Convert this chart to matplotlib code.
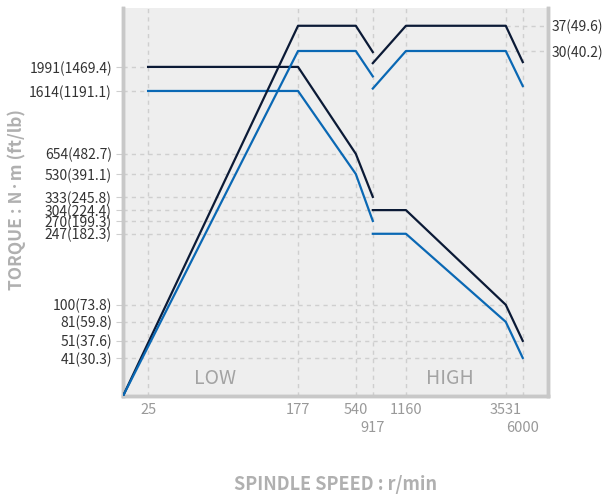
import numpy as np
import matplotlib
matplotlib.use("Agg")
import matplotlib.pyplot as plt

plt.rcParams['font.family'] = ['Noto Sans CJK KR', 'DejaVu Sans']

# spindle speed breakpoints (r/min)
speed_ticks = [25, 177, 540, 917, 1160, 3531, 6000]
speed_labels = ['25', '177', '540', '917', '1160', '3531', '6000']

# torque (N·m), two segments each (low / high gear)
torque_a_low_x = [25, 177, 540, 917]
torque_a_low_y = [1991, 1991, 654, 333]
torque_a_high_x = [917, 1160, 3531, 6000]
torque_a_high_y = [304, 304, 100, 51]
torque_b_low_x = [25, 177, 540, 917]
torque_b_low_y = [1614, 1614, 530, 270]
torque_b_high_x = [917, 1160, 3531, 6000]
torque_b_high_y = [247, 247, 81, 41]

torque_ticks = [1991, 1614, 654, 530, 333, 304, 270, 247, 100, 81, 51, 41]
torque_labels = ['1991(1469.4)', '1614(1191.1)', '654(482.7)', '530(391.1)',
                 '333(245.8)', '304(224.4)', '270(199.3)', '247(182.3)',
                 '100(73.8)', '81(59.8)', '51(37.6)', '41(30.3)']

# power (kW)
power_a_low_x = [0, 177, 540, 917]
power_a_low_y = [0, 37, 37, 29.7]
power_a_high_x = [917, 1160, 3531, 6000]
power_a_high_y = [26.6, 37, 37, 26.9]
power_b_low_x = [0, 177, 540, 917]
power_b_low_y = [0, 30, 30, 22.9]
power_b_high_x = [917, 1160, 3531, 6000]
power_b_high_y = [19.5, 30, 30, 20.2]

power_ticks = [37, 30]
power_labels = ['37(49.6)', '30(40.2)']

DARK = '#0b1a36'
BLUE = '#0a68b4'
GRID = '#cfcfcf'
SPINE = '#c8c8c8'


def piecewise(vals, fracs):
    vals = np.asarray(vals, float)
    fracs = np.asarray(fracs, float)
    fwd = lambda v: np.interp(v, vals, fracs)
    inv = lambda f: np.interp(f, fracs, vals)
    return fwd, inv


# schematic (non-uniform) axis scales
x_fwd, x_inv = piecewise([0, 25, 177, 540, 917, 1160, 3531, 6000, 6500],
                         [0, 0.059, 0.412, 0.548, 0.588, 0.666, 0.901, 0.941, 1])
t_fwd, t_inv = piecewise([0, 41, 51, 81, 100, 247, 270, 304, 333, 530, 654, 1614, 1991, 2500],
                         [0, 0.098, 0.142, 0.191, 0.235, 0.418, 0.451, 0.479, 0.513,
                          0.572, 0.624, 0.786, 0.848, 1])
p_fwd, p_inv = piecewise([0, 16, 30, 37, 42], [0, 0.760, 0.889, 0.954, 1])

fig = plt.figure(figsize=(6.06, 4.95), dpi=100)
ax = fig.add_axes([0.203, 0.2, 0.701, 0.784])
ax.set_xscale('function', functions=(x_fwd, x_inv))
ax.set_yscale('function', functions=(t_fwd, t_inv))
ax.set_xlim(0, 6500)
ax.set_ylim(0, 2500)
ax.set_facecolor('#eeeeee')

ax2 = ax.twinx()
ax2.set_yscale('function', functions=(p_fwd, p_inv))
ax2.set_ylim(0, 42)

# vertical grid
for s in speed_ticks:
    ax.axvline(s, color=GRID, lw=1, ls=(0, (3, 3)), zorder=1)

# horizontal grid up to the curve
torque_sets = [(torque_a_low_x, torque_a_low_y), (torque_a_high_x, torque_a_high_y),
               (torque_b_low_x, torque_b_low_y), (torque_b_high_x, torque_b_high_y)]
for t in torque_ticks:
    for xs, ys in torque_sets:
        if t in ys:
            ax.hlines(t, 0, xs[ys.index(t)], color=GRID, lw=1, ls=(0, (3, 3)), zorder=1)
            break
power_sets = [(power_a_high_x, power_a_high_y), (power_b_high_x, power_b_high_y)]
for p in power_ticks:
    for xs, ys in power_sets:
        if p in ys:
            last = len(ys) - 1 - ys[::-1].index(p)
            ax2.hlines(p, xs[last], 6500, color=GRID, lw=1, ls=(0, (3, 3)), zorder=1)
            break

for xs, ys in [(torque_a_low_x, torque_a_low_y), (torque_a_high_x, torque_a_high_y)]:
    ax.plot(xs, ys, color=DARK, lw=1.6, zorder=3)
for xs, ys in [(torque_b_low_x, torque_b_low_y), (torque_b_high_x, torque_b_high_y)]:
    ax.plot(xs, ys, color=BLUE, lw=1.6, zorder=3)
for xs, ys in [(power_a_low_x, power_a_low_y), (power_a_high_x, power_a_high_y)]:
    ax2.plot(xs, ys, color=DARK, lw=1.6, zorder=3)
for xs, ys in [(power_b_low_x, power_b_low_y), (power_b_high_x, power_b_high_y)]:
    ax2.plot(xs, ys, color=BLUE, lw=1.6, zorder=3)

ax.set_xticks(speed_ticks)
ax.set_xticklabels(speed_labels, color='#999999', fontsize=10.5)
ax.tick_params(axis='x', length=0, pad=5)
# stagger the crowded labels
for i in (3, 6):
    ax.xaxis.get_major_ticks()[i].set_pad(18)
ax.set_yticks(torque_ticks)
ax.set_yticklabels(torque_labels, color='#333333', fontsize=10)
ax.tick_params(axis='y', length=5, color=GRID, pad=3)
ax.minorticks_off()
ax2.set_yticks(power_ticks)
ax2.set_yticklabels(power_labels, color='#333333', fontsize=10)
ax2.tick_params(axis='y', length=0, pad=3)
ax2.minorticks_off()

for a in (ax, ax2):
    a.spines['top'].set_visible(False)
    for k in ('left', 'right', 'bottom'):
        a.spines[k].set_color(SPINE)
        a.spines[k].set_linewidth(2.5)

ax.text(0.216, 0.044, 'LOW', transform=ax.transAxes, ha='center', va='center',
        fontsize=14, color='#a3a3a3')
ax.text(0.769, 0.044, 'HIGH', transform=ax.transAxes, ha='center', va='center',
        fontsize=14, color='#a3a3a3')

fig.text(0.028, 0.596, 'TORQUE : N·m (ft/lb)', rotation=90, ha='center', va='center',
         fontsize=12.5, fontweight='bold', color='#b0b0b0')
fig.text(0.553, 0.022, 'SPINDLE SPEED : r/min', ha='center', va='center',
         fontsize=13, fontweight='bold', color='#b0b0b0')

fig.savefig('out.png', dpi=100)
